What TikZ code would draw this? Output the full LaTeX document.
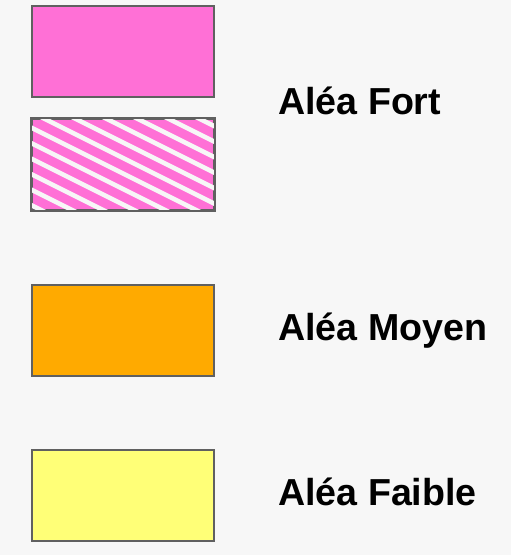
\documentclass[tikz,border=0pt]{standalone}
\usepackage{fontspec}
\setmainfont{Liberation Sans}
\usetikzlibrary{positioning}
\definecolor{aleafort}{RGB}{255,112,214}
\definecolor{aleamoyen}{RGB}{255,170,0}
\definecolor{aleafaible}{RGB}{255,255,119}
\definecolor{boxgray}{RGB}{96,96,96}
\definecolor{bggray}{RGB}{247,247,247}

\begin{document}
\begin{tikzpicture}[x=1pt, y=-1pt,
    legendbox/.style={rectangle, draw=boxgray, line width=2pt, minimum width=182pt, minimum height=91pt, anchor=north west, inner sep=0pt},
    legendtext/.style={anchor=base west, inner sep=0pt, font=\fontsize{37.6}{40}\selectfont\bfseries},
    stripe/.style={white!97!black, line width=4.5pt}
]
    % Background
    \fill[bggray] (0,0) rectangle (511,555);
    \useasboundingbox (0,0) rectangle (511,555);

    % Legend boxes
    \node[legendbox, fill=aleafort] (fort) at (31,5) {};
    \node[legendbox, fill=aleafort] (forthatch) at (31,118) {};
    \node[legendbox, fill=aleamoyen] (moyen) at (31,284) {};
    \node[legendbox, fill=aleafaible] (faible) at (31,449) {};

    % Hatching
    \begin{scope}
        \clip (forthatch.south west) rectangle (forthatch.north east);
        \foreach \k in {-7,...,8}
            \draw[stripe] (0,96.5+15.5*\k) -- ++(260,130);
    \end{scope}
    \draw[boxgray, line width=2pt] (forthatch.south west) rectangle (forthatch.north east);

    % Labels
    \node[legendtext] (fortlabel) at (278,114) {Aléa Fort};
    \node[legendtext] (moyenlabel) at (278,340) {Aléa Moyen};
    \node[legendtext] (faiblelabel) at (278,505) {Aléa Faible};
\end{tikzpicture}
\end{document}
